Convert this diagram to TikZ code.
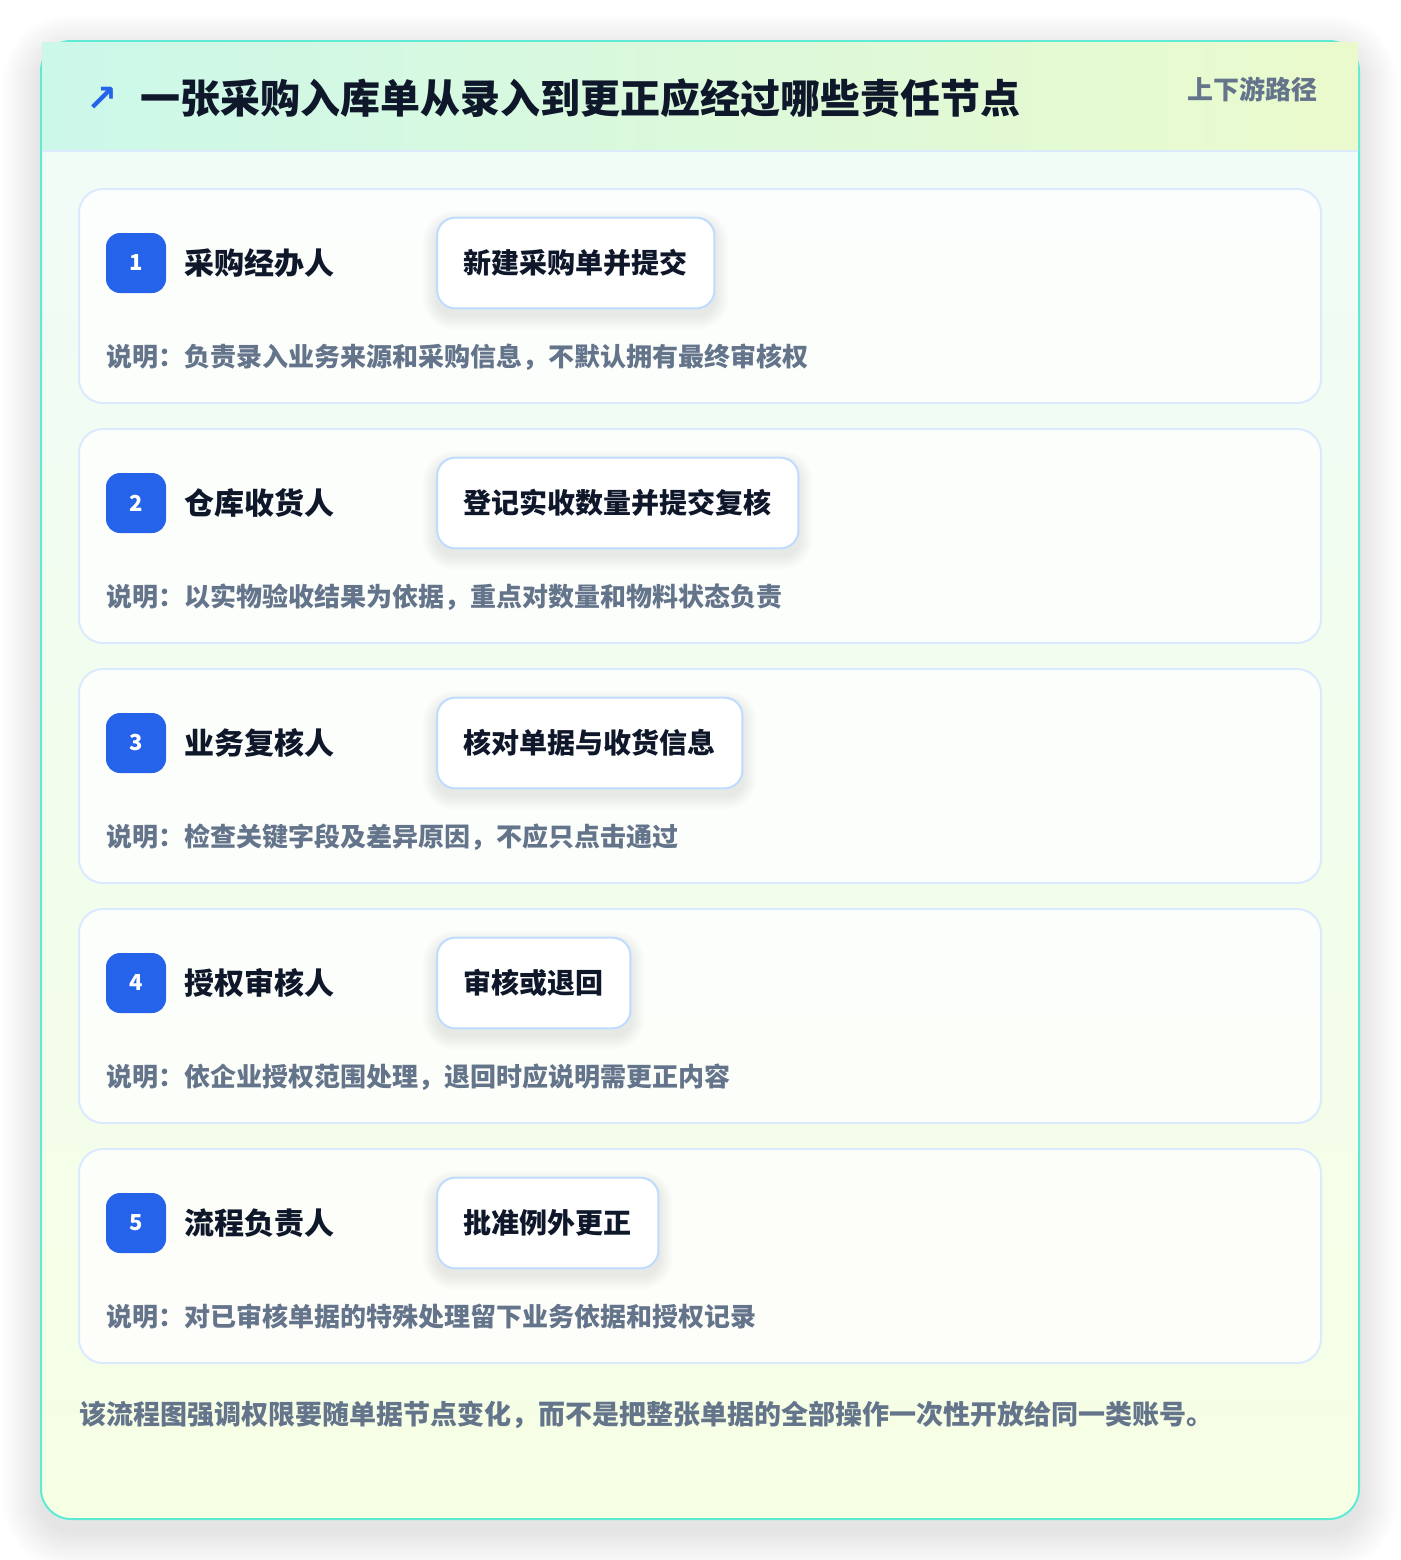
\documentclass[tikz,border=0pt]{standalone}
\usepackage{fontspec}
\setmainfont{Noto Sans CJK SC}
\newfontfamily\symfont{DejaVu Sans}
\usetikzlibrary{positioning}

\definecolor{tealline}{HTML}{5EEAD4}
\definecolor{cardline}{HTML}{DBEAFE}
\definecolor{actline}{HTML}{BFDBFE}
\definecolor{badgeblue}{HTML}{2563EB}
\definecolor{inkdark}{HTML}{0F172A}
\definecolor{inkgray}{HTML}{64748B}
\definecolor{hdleft}{HTML}{CCF8EA}
\definecolor{hdright}{HTML}{EBFACC}
\definecolor{bodytop}{HTML}{EFFCF7}
\definecolor{bodybot}{HTML}{F6FEE4}

\newcommand{\fsz}[1]{\fontsize{#1}{#1}\selectfont}
% soft shadow under an action box, drawn on the shade layer
\newcommand{\actshadow}[1]{%
  \begin{pgfonlayer}{shade}
    \foreach \s [evaluate=\s as \r using 13.5+0.75*\s] in {1,3,...,13}
      \fill [black, opacity=0.011, rounded corners=\r pt]
        ([shift={(-\s, \s+7)}]#1.south west) rectangle ([shift={(\s, -\s+7)}]#1.north east);
  \end{pgfonlayer}}

\pgfdeclarelayer{panel}
\pgfdeclarelayer{shade}
\pgfsetlayers{panel,shade,main}

\tikzset{
  rowcard/.style={draw=cardline, line width=1.5pt, fill=white, fill opacity=0.8, rounded corners=18pt},
  badge/.style={fill=badgeblue, rounded corners=10.5pt, minimum size=45pt, inner sep=0pt,
    text=white, font=\bfseries\fsz{16.5}},
  role/.style={inner sep=0pt, text=inkdark, font=\bfseries\fsz{22.5}},
  act/.style={draw=actline, line width=1.5pt, fill=white, rounded corners=13.5pt,
    minimum height=68pt, inner xsep=20pt, text=inkdark, font=\bfseries\fsz{21}},
  desc/.style={inner sep=0pt, anchor=west, text=inkgray, font=\bfseries\fsz{19.5}}
}

\begin{document}
\begin{tikzpicture}[x=0.75pt, y=-0.75pt]
    \useasboundingbox (0, 0) rectangle (1400, 1560);
    \begin{pgfonlayer}{panel}
    \fill [white] (0, 0) rectangle (1400, 1560);
    % outer panel with its shadow
    \foreach \s [evaluate=\s as \r using 22.5+0.75*\s] in {2,5,...,38}
        \fill [black, opacity=0.009, rounded corners=\r pt] (41-\s, 41-\s+12) rectangle (1359+\s, 1519+\s+12);
    \shade [top color=bodytop, bottom color=bodybot, rounded corners=22.5pt] (41, 41) rectangle (1359, 1519);
    \draw [tealline, line width=1.5pt, rounded corners=22.5pt] (41, 41) rectangle (1359, 1519);
    \shade [left color=hdleft, right color=hdright] (42, 42.5) rectangle (1358, 151);
    \draw [cardline, line width=1.5pt] (42, 151) -- (1358, 151);
    % row cards
    \draw [rowcard] (79, 189) rectangle (1321, 403);
    \draw [rowcard] (79, 429) rectangle (1321, 643);
    \draw [rowcard] (79, 669) rectangle (1321, 883);
    \draw [rowcard] (79, 909) rectangle (1321, 1123);
    \draw [rowcard] (79, 1149) rectangle (1321, 1363);
    \end{pgfonlayer}
    % header
    \node [text=badgeblue, font=\symfont\bfseries\fsz{28}, inner sep=0pt] (ico) at (102, 99) {↗};
    \node [anchor=west, inner sep=0pt, text=inkdark, font=\bfseries\fsz{30}] (ttl) at (140, 98)
        {一张采购入库单从录入到更正应经过哪些责任节点};
    \node [anchor=east, inner sep=0pt, text=inkgray, font=\bfseries\fsz{19.5}] (tag) at (1318, 89) {上下游路径};
    % row 1
    \node [badge] (b1) at (136, 263) {1};
    \node [role, right=13.5pt of b1] (r1) {采购经办人};
    \node [act, right=76pt of r1] (a1) {新建采购单并提交};
    \node [desc] (d1) at (106, 357) {说明：负责录入业务来源和采购信息，不默认拥有最终审核权};
    \actshadow{a1}
    % row 2
    \node [badge] (b2) at (136, 503) {2};
    \node [role, right=13.5pt of b2] (r2) {仓库收货人};
    \node [act, right=76pt of r2] (a2) {登记实收数量并提交复核};
    \node [desc] (d2) at (106, 597) {说明：以实物验收结果为依据，重点对数量和物料状态负责};
    \actshadow{a2}
    % row 3
    \node [badge] (b3) at (136, 743) {3};
    \node [role, right=13.5pt of b3] (r3) {业务复核人};
    \node [act, right=76pt of r3] (a3) {核对单据与收货信息};
    \node [desc] (d3) at (106, 837) {说明：检查关键字段及差异原因，不应只点击通过};
    \actshadow{a3}
    % row 4
    \node [badge] (b4) at (136, 983) {4};
    \node [role, right=13.5pt of b4] (r4) {授权审核人};
    \node [act, right=76pt of r4] (a4) {审核或退回};
    \node [desc] (d4) at (106, 1077) {说明：依企业授权范围处理，退回时应说明需更正内容};
    \actshadow{a4}
    % row 5
    \node [badge] (b5) at (136, 1223) {5};
    \node [role, right=13.5pt of b5] (r5) {流程负责人};
    \node [act, right=76pt of r5] (a5) {批准例外更正};
    \node [desc] (d5) at (106, 1317) {说明：对已审核单据的特殊处理留下业务依据和授权记录};
    \actshadow{a5}
    % footer
    \node [anchor=west, inner sep=0pt, text=inkgray, font=\bfseries\fsz{20.25}] (note) at (79, 1415)
        {该流程图强调权限要随单据节点变化，而不是把整张单据的全部操作一次性开放给同一类账号。};
\end{tikzpicture}
\end{document}
